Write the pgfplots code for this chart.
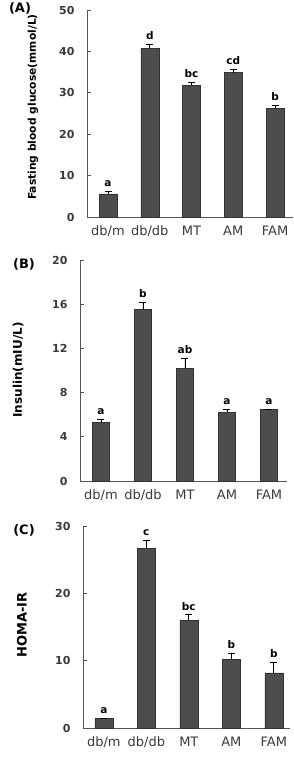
\documentclass[border=0pt]{standalone}
\usepackage{pgfplots}
\usepackage{pgfplotstable}
\usepackage{fontspec}
\pgfplotsset{compat=1.18}
\setmainfont{DejaVu Sans}

\definecolor{bargray}{HTML}{4D4D4D}
\definecolor{bardark}{HTML}{333333}
\definecolor{axisgray}{HTML}{555555}
\definecolor{labelgray}{HTML}{3A3A3A}

% group means, SEM and significance letters
\pgfplotstableread{
x m e lab
0 5.6 0.6 a
1 40.8 1.0 d
2 31.8 0.8 bc
3 34.9 0.7 cd
4 26.3 0.7 b
}\tabA
\pgfplotstableread{
x m e lab
0 5.3 0.3 a
1 15.5 0.7 b
2 10.2 0.9 ab
3 6.2 0.25 a
4 6.5 0.0 a
}\tabB
\pgfplotstableread{
x m e lab
0 1.4 0.0 a
1 26.7 1.1 c
2 16.0 0.8 bc
3 10.2 0.9 b
4 8.2 1.6 b
}\tabC

\pgfplotsset{
  panel/.style={
    scale only axis, anchor=south west, clip=false,
    axis x line*=bottom, axis y line*=left,
    axis line style={draw=axisgray, line width=0.8pt},
    xtick={0,...,4}, xticklabels={db/m,db/db,MT,AM,FAM},
    xtick style={draw=none},
    tick align=inside, major tick length=3.5pt,
    ytick style={draw=axisgray, line width=0.8pt},
    ymin=0,
    xticklabel style={font=\fontsize{13}{14}\selectfont, text=labelgray, yshift=-5pt},
    yticklabel style={font=\bfseries\fontsize{11}{12}\selectfont, text=labelgray, xshift=-9pt},
    /pgf/number format/assume math mode=true,
  },
  bars/.style={
    ybar, bar width=#1, fill=bargray, draw=bardark, line width=0.5pt,
    error bars/.cd, y dir=plus, y explicit,
    error bar style={line width=0.8pt, black},
    error mark options={rotate=90, mark size=3.5pt, line width=0.8pt, black},
  },
  letters/.style={
    draw=none, mark=none, nodes near coords, point meta=explicit symbolic,
    nodes near coords style={anchor=south, inner sep=1pt, yshift=3.5pt,
      font=\bfseries\fontsize{10.5}{11}\selectfont, text=black},
  },
}

\begin{document}
\begin{tikzpicture}
\useasboundingbox (0pt,0pt) rectangle (293pt,-762pt);

% (A) fasting blood glucose
\begin{axis}[panel, at={(87pt,-217pt)}, width=206pt, height=207pt,
  xmin=-0.503, xmax=4.43, ymax=50, ytick={0,10,...,50}]
\addplot[bars=18pt] table[x=x, y=m, y error=e] {\tabA};
\addplot[letters] table[x=x, y expr=\thisrow{m}+\thisrow{e}, meta=lab] {\tabA};
\end{axis}

% (B) insulin
\begin{axis}[panel, at={(80pt,-481pt)}, width=207pt, height=221pt,
  xmin=-0.5, xmax=4.43, ymax=20, ytick={0,4,...,20}]
\addplot[bars=17.5pt] table[x=x, y=m, y error=e] {\tabB};
\addplot[letters] table[x=x, y expr=\thisrow{m}+\thisrow{e}, meta=lab] {\tabB};
\end{axis}

% (C) HOMA-IR
\begin{axis}[panel, at={(83pt,-728pt)}, width=207pt, height=202pt,
  xmin=-0.49, xmax=4.38, ymax=30, ytick={0,10,20,30}]
\addplot[bars=18pt] table[x=x, y=m, y error=e] {\tabC};
\addplot[letters] table[x=x, y expr=\thisrow{m}+\thisrow{e}, meta=lab] {\tabC};
\end{axis}

% panel tags and axis titles
\node[font=\bfseries\fontsize{13}{14}\selectfont, text=black] at (20pt,-8.5pt) {(A)};
\node[font=\bfseries\fontsize{13}{14}\selectfont, text=black] at (24pt,-264pt) {(B)};
\node[font=\bfseries\fontsize{13}{14}\selectfont, text=black] at (24pt,-530pt) {(C)};
\node[rotate=90, font=\bfseries\fontsize{10.7}{11}\selectfont, text=black] at (33pt,-107pt) {Fasting blood glucose(mmol/L)};
\node[rotate=90, font=\bfseries\fontsize{12}{13}\selectfont, text=black] at (18pt,-370pt) {Insulin(mIU/L)};
\node[rotate=90, font=\bfseries\fontsize{13}{14}\selectfont, text=black] at (22pt,-625pt) {HOMA-IR};
\end{tikzpicture}
\end{document}
